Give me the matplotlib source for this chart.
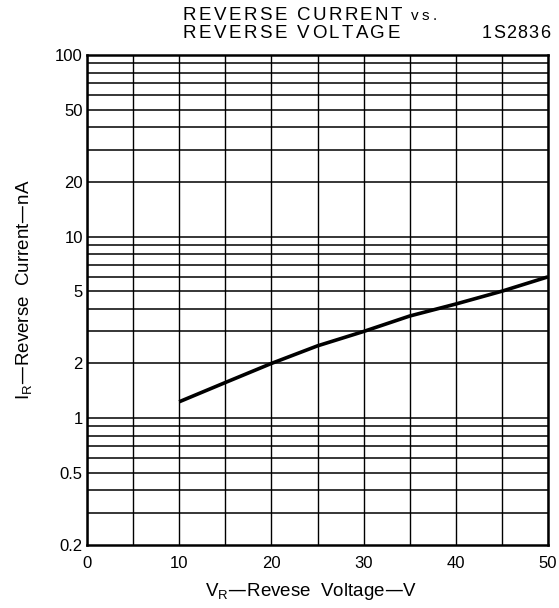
import matplotlib
matplotlib.use("Agg")
import matplotlib.pyplot as plt

# data
voltage = [10, 15, 20, 25, 30, 35, 40, 45, 50]
current = [1.23, 1.57, 2.0, 2.5, 3.0, 3.65, 4.25, 5.0, 6.0]
ytick_vals = [0.2, 0.5, 1, 2, 5, 10, 20, 50, 100]
ytick_labels = ["0.2", "0.5", "1", "2", "5", "10", "20", "50", "100"]
xtick_vals = [0, 10, 20, 30, 40, 50]
xgrid_vals = list(range(0, 51, 5))
ygrid_vals = [0.3, 0.4, 0.5, 0.6, 0.7, 0.8, 0.9, 1, 2, 3, 4, 5, 6, 7, 8, 9, 10,
              20, 30, 40, 50, 60, 70, 80, 90]
title1 = "REVERSE CURRENT"
title1b = "vs."
title2 = "REVERSE VOLTAGE"
part_no = "1S2836"

plt.rcParams['font.family'] = ['Liberation Sans', 'DejaVu Sans']

W, H = 559, 608
fig = plt.figure(figsize=(W / 100, H / 100), dpi=100)
ax = fig.add_axes([87 / W, 1 - 545 / H, (548 - 87) / W, (545 - 55) / H])
ax.set_yscale('log')
ax.set_xlim(0, 50)
ax.set_ylim(0.2, 100)

for x in xgrid_vals:
    ax.axvline(x, color='black', lw=1.0, zorder=1)
for y in ygrid_vals:
    ax.axhline(y, color='black', lw=1.1, zorder=1)

ax.plot(voltage, current, color='black', lw=2.6, solid_capstyle='butt', zorder=3)

ax.set_yticks(ytick_vals)
ax.set_yticklabels(ytick_labels)
ax.yaxis.set_minor_locator(matplotlib.ticker.NullLocator())
ax.set_xticks(xtick_vals)
ax.tick_params(axis='y', length=0, labelsize=12, pad=3)
ax.tick_params(axis='x', length=0, labelsize=12, pad=8)
for s in ax.spines.values():
    s.set_linewidth(1.8)

fig.text(311 / W, 1 - 591 / H, "V$_\\mathregular{R}$\u2014Revese  Voltage\u2014V",
         ha='center', va='center', fontsize=13.5)
fig.text(25 / W, 1 - 290 / H, "I$_\\mathregular{R}$\u2014Reverse  Current\u2014nA",
         ha='center', va='center', fontsize=13.5, rotation=90)

renderer = fig.canvas.get_renderer()


def tracked(x0, x1, yc, s, size):
    """Place characters of s one by one from x0 to x1 (pixels) with even tracking."""
    widths = []
    for ch in s:
        if ch == ' ':
            widths.append(size * 100 / 72 * 0.278)
        else:
            t = fig.text(0, 0, ch, fontsize=size)
            widths.append(t.get_window_extent(renderer).width)
            t.remove()
    natural = sum(widths)
    track = (x1 - x0 - natural) / max(len(s) - 1, 1)
    x = x0
    for ch, w in zip(s, widths):
        if ch != ' ':
            fig.text(x / W, 1 - yc / H, ch, fontsize=size, ha='left', va='center',
                     fontweight='medium')
        x += w + track


tracked(183, 402, 15, title1, 13.5)
tracked(411, 437, 16.5, title1b, 11)
tracked(183, 400, 33, title2, 13.5)
tracked(482, 550, 33, part_no, 13)

fig.savefig("out.png", dpi=100)
